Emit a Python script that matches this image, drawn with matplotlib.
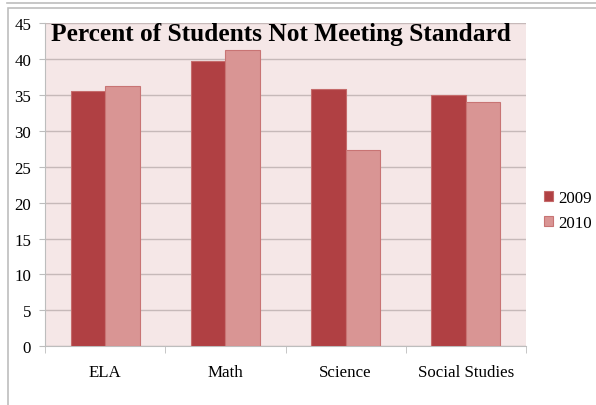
import matplotlib.pyplot as plt
import numpy as np
from matplotlib.lines import Line2D
from matplotlib.patches import Rectangle

categories = ['ELA', 'Math', 'Science', 'Social Studies']
years = ['2009', '2010']
pct_2009 = [35.5, 39.7, 35.8, 35.0]
pct_2010 = [36.3, 41.2, 27.3, 34.0]
y_ticks = [0, 5, 10, 15, 20, 25, 30, 35, 40, 45]

plt.rcParams['font.family'] = ['Liberation Serif', 'DejaVu Serif']

fig = plt.figure(figsize=(5.96, 4.06), dpi=100, facecolor='white')
ax = fig.add_axes([45 / 596, 1 - 347.3 / 406, 481 / 596, 323.3 / 406])

# Outer chart frame ##################################
fig.add_artist(Line2D([7 / 596, 1], [1 - 3.5 / 406] * 2, color='#BDBDBD', lw=1.2))
fig.add_artist(Rectangle((8 / 596, -0.01), 1, 1 - 8.5 / 406 + 0.01, fill=False,
                         edgecolor='#BDBDBD', lw=1.2))

x = np.arange(len(categories))
w = 0.287
ax.bar(x - w / 2, pct_2009, w, color='#B04043', edgecolor='#C56B6B', lw=0.8,
       label=years[0], zorder=3)
ax.bar(x + w / 2, pct_2010, w, color='#D99594', edgecolor='#C87474', lw=0.8,
       label=years[1], zorder=3)

ax.set_facecolor('#F5E7E7')
ax.set_xlim(-0.5, len(categories) - 0.5)
ax.set_ylim(0, 45)
ax.set_yticks(y_ticks)
ax.yaxis.grid(True, color='#C6B9B9', lw=1, zorder=0)

ax.set_xticks(x)
ax.set_xticklabels(categories, fontsize=12.2)
ax.set_xticks(np.arange(-0.5, len(categories)), minor=True)
ax.tick_params(axis='x', which='major', length=0, pad=13)
ax.tick_params(axis='x', which='minor', length=5, color='#BDBDBD')
ax.tick_params(axis='y', length=4, color='#BDBDBD', labelsize=12.2, pad=6)

for s in ['top', 'right']:
    ax.spines[s].set_visible(False)
for s in ['left', 'bottom']:
    ax.spines[s].set_color('#BDBDBD')

ax.text(0.49, 1.004, 'Percent of Students Not Meeting Standard', transform=ax.transAxes,
        ha='center', va='top', fontsize=18.3, fontweight='bold')

ax.legend(loc='center left', bbox_to_anchor=(1.005, 0.42), frameon=False,
          fontsize=12.2, handlelength=0.55, handleheight=0.55, handletextpad=0.3,
          labelspacing=0.5)

plt.savefig('out.png', dpi=100, facecolor='white')
